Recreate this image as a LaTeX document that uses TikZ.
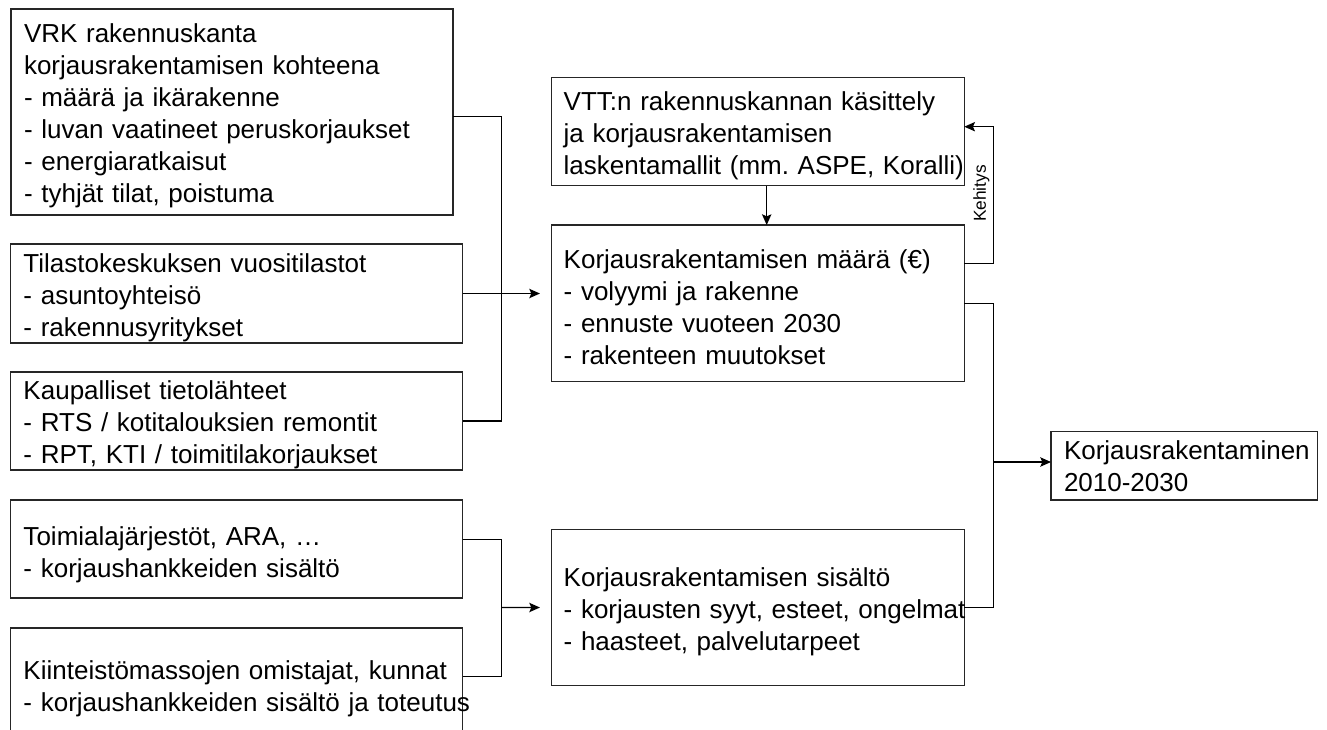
\documentclass[tikz,border=0pt]{standalone}
\usepackage{fontspec}
\setmainfont{Liberation Sans}
\usetikzlibrary{arrows.meta}
\frenchspacing
\begin{document}
\begin{tikzpicture}[x=0.75pt,y=-0.75pt,
  tdown/.style={execute at begin node={\rule{0pt}{#1}}},
  box/.style={draw=black!85, line width=1pt, anchor=north west, align=left,
    inner ysep=0pt, outer sep=0pt, font=\fontsize{19.5pt}{24pt}\selectfont},
  lbox/.style={box, inner xsep=9.75pt, text width=319.5pt, tdown=20.2pt},
  midbox/.style={box, inner xsep=9pt, text width=291.45pt, minimum height=117.5pt, tdown=20.2pt},
  conn/.style={draw=black, line width=1pt},
  arr/.style={conn, -{Stealth[length=8pt,width=7pt,inset=1.5pt]}}]
\clip (0,0) rectangle (1327,729);
% left boxes
\node[lbox, text width=312pt, minimum height=154.5pt] (B1) at (11,9)
  {VRK rakennuskanta\\korjausrakentamisen kohteena\\- määrä ja ikärakenne\\- luvan vaatineet peruskorjaukset\\- energiaratkaisut\\- tyhjät tilat, poistuma};
\node[lbox, minimum height=74.25pt] (B2) at (10.5,244)
  {Tilastokeskuksen vuositilastot\\- asuntoyhteisö\\- rakennusyritykset};
\node[lbox, minimum height=73.5pt] (B3) at (10.5,372)
  {Kaupalliset tietolähteet\\- RTS / kotitalouksien remontit\\- RPT, KTI / toimitilakorjaukset};
\node[lbox, minimum height=73.5pt, tdown=23.2pt] (B4) at (10.5,500)
  {Toimialajärjestöt, ARA, …\\- korjaushankkeiden sisältö};
\node[lbox, minimum height=85.5pt] (B5) at (10.5,628)
  {Kiinteistömassojen omistajat, kunnat\\\mbox{- korjaushankkeiden sisältö ja toteutus}};
% middle boxes
\node[midbox, minimum height=81pt] (VTT) at (551.7,77.7)
  {VTT:n rakennuskannan käsittely\\ja korjausrakentamisen\\\mbox{laskentamallit (mm. ASPE, Koralli)}};
\node[midbox] (MAARA) at (551.7,225)
  {Korjausrakentamisen määrä (€)\\- volyymi ja rakenne\\- ennuste vuoteen 2030\\- rakenteen muutokset};
\node[midbox, minimum height=117.3pt] (SIS) at (551.7,529.3)
  {Korjausrakentamisen sisältö\\\mbox{- korjausten syyt, esteet, ongelmat}\\- haasteet, palvelutarpeet};
% output box
\node[box, inner xsep=9.75pt, text width=180.5pt, minimum height=51.2pt] (OUT) at (1051,431.7)
  {\mbox{Korjausrakentaminen}\\2010-2030};
% junctions
\coordinate (jt) at (501.7,294);
\coordinate (jb) at (501.7,607.5);
\coordinate (jr) at (993.3,462);
% top bracket
\draw[conn] (B1.east |- 0,116.5) -| (jt |- B3.east) -- (B3.east);
\draw[arr, shorten >=8.8pt] (B2.east) -- (MAARA.west |- B2.east);
% bottom bracket
\draw[conn] (B4.east |- 0,539.3) -| (jb |- 0,676.7) -- (B5.east |- 0,676.7);
\draw[arr, shorten >=8.8pt] (jb) -- (SIS.west);
% right bracket
\draw[conn] (MAARA.east) -| (jr |- SIS.east) -- (SIS.east);
\draw[arr] (jr) -- (OUT.west |- jr);
% down arrow
\draw[arr] (VTT.south -| 766.7,0) -- (MAARA.north -| 766.7,0);
% Kehitys loop
\draw[arr] (MAARA.east |- 0,263.3) -| (jr |- 0,126.7) -- (VTT.east |- 0,126.7);
\node[rotate=90, inner sep=0pt, font=\fontsize{13pt}{15pt}\selectfont] (K) at (981.5,193.5) {Kehitys};
\end{tikzpicture}
\end{document}
